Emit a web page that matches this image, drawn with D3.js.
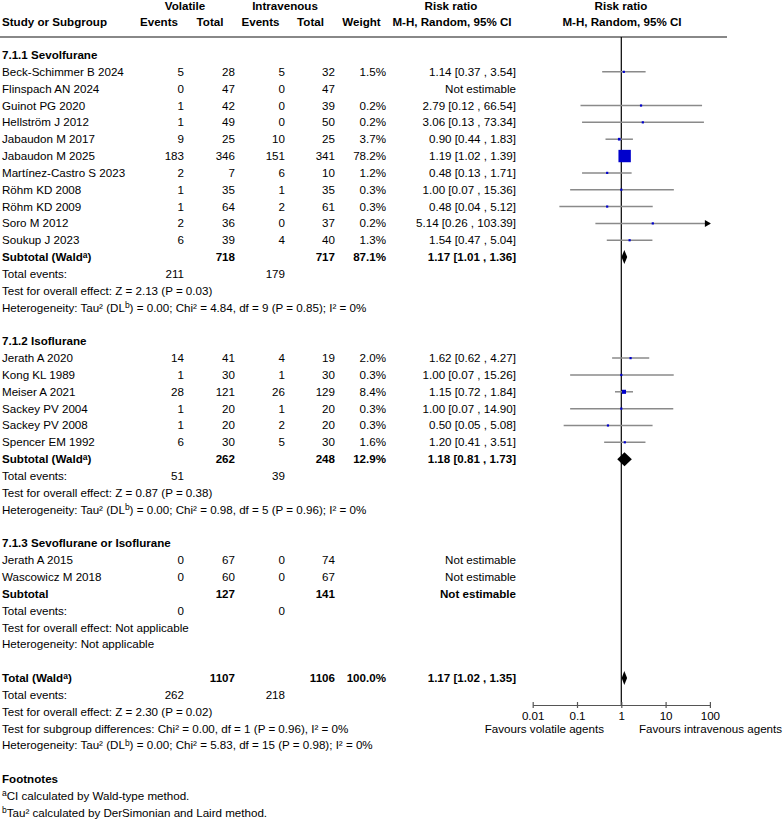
<!DOCTYPE html>
<html>
<head>
<meta charset="utf-8">
<script src="https://cdn.jsdelivr.net/npm/d3@7"></script>
<style>
	body { margin: 0; background: #fff; }
	text { font-family: "Liberation Sans", Arial, sans-serif; font-size: 11.6px; fill: #000; }
	.b { font-weight: bold; }
</style>
</head>
<body>
<svg id="chart" width="783" height="819"></svg>
<script>
// study rows: name, volatile events, volatile total, iv events, iv total, weight %, rr, lower, upper
const sevoStudies = [
	["Beck-Schimmer B 2024", 5, 28, 5, 32, 1.5, 1.14, 0.37, 3.54],
	["Flinspach AN 2024", 0, 47, 0, 47, null, null, null, null],
	["Guinot PG 2020", 1, 42, 0, 39, 0.2, 2.79, 0.12, 66.54],
	["Hellström J 2012", 1, 49, 0, 50, 0.2, 3.06, 0.13, 73.34],
	["Jabaudon M 2017", 9, 25, 10, 25, 3.7, 0.9, 0.44, 1.83],
	["Jabaudon M 2025", 183, 346, 151, 341, 78.2, 1.19, 1.02, 1.39],
	["Martínez-Castro S 2023", 2, 7, 6, 10, 1.2, 0.48, 0.13, 1.71],
	["Röhm KD 2008", 1, 35, 1, 35, 0.3, 1.0, 0.07, 15.36],
	["Röhm KD 2009", 1, 64, 2, 61, 0.3, 0.48, 0.04, 5.12],
	["Soro M 2012", 2, 36, 0, 37, 0.2, 5.14, 0.26, 103.39],
	["Soukup J 2023", 6, 39, 4, 40, 1.3, 1.54, 0.47, 5.04],
]
const isoStudies = [
	["Jerath A 2020", 14, 41, 4, 19, 2.0, 1.62, 0.62, 4.27],
	["Kong KL 1989", 1, 30, 1, 30, 0.3, 1.0, 0.07, 15.26],
	["Meiser A 2021", 28, 121, 26, 129, 8.4, 1.15, 0.72, 1.84],
	["Sackey PV 2004", 1, 20, 1, 20, 0.3, 1.0, 0.07, 14.9],
	["Sackey PV 2008", 1, 20, 2, 20, 0.3, 0.5, 0.05, 5.08],
	["Spencer EM 1992", 6, 30, 5, 30, 1.6, 1.2, 0.41, 3.51],
]
const mixStudies = [
	["Jerath A 2015", 0, 67, 0, 74, null, null, null, null],
	["Wascowicz M 2018", 0, 60, 0, 67, null, null, null, null],
]

const groupTitles = ["7.1.1 Sevolfurane", "7.1.2 Isoflurane", "7.1.3 Sevoflurane or Isoflurane"]
// subtotal: label, volatile total, iv total, weight, rr, lower, upper
const subtotals = [
	["Subtotal (Wald^a)", 718, 717, 87.1, 1.17, 1.01, 1.36],
	["Subtotal (Wald^a)", 262, 248, 12.9, 1.18, 0.81, 1.73],
	["Subtotal", 127, 141, null, null, null, null],
]
const groupEvents = [[211, 179], [51, 39], [0, 0]]
const groupTests = [
	["Test for overall effect: Z = 2.13 (P = 0.03)",
		"Heterogeneity: Tau² (DL^b) = 0.00; Chi² = 4.84, df = 9 (P = 0.85); I² = 0%"],
	["Test for overall effect: Z = 0.87 (P = 0.38)",
		"Heterogeneity: Tau² (DL^b) = 0.00; Chi² = 0.98, df = 5 (P = 0.96); I² = 0%"],
	["Test for overall effect: Not applicable", "Heterogeneity: Not applicable"],
]
const overall = ["Total (Wald^a)", 1107, 1106, 100.0, 1.17, 1.02, 1.35]
const overallEvents = [262, 218]
const overallTests = [
	"Test for overall effect: Z = 2.30 (P = 0.02)",
	"Test for subgroup differences: Chi² = 0.00, df = 1 (P = 0.96), I² = 0%",
	"Heterogeneity: Tau² (DL^b) = 0.00; Chi² = 5.83, df = 15 (P = 0.98); I² = 0%",
]
const footnotes = ["^aCI calculated by Wald-type method.", "^bTau² calculated by DerSimonian and Laird method."]
const axisTicks = [0.01, 0.1, 1, 10, 100]
const axisLabels = ["Favours volatile agents", "Favours intravenous agents"]

const svg = d3.select("#chart")

// column anchors (right aligned numbers)
const col = { evV: 184, totV: 235, evI: 285, totI: 335, weight: 386, ci: 516 }
const rowY = (i) => 55 + i * 16.84
const x = d3.scaleLog().domain([0.01, 100]).range([532.7, 709.9])
const axisY = 705

// text with ^x superscripts
function rich(sel, str) {
	const parts = str.split(/\^(\w)/)
	let shift = 0
	parts.forEach((p, i) => {
		if (p === "") return
		const sup = i % 2 === 1
		const target = sup ? -3.5 : 0
		const ts = sel.append("tspan").attr("dy", target - shift).text(p)
		if (sup) ts.style("font-size", "8.5px")
		shift = target
	})
	return sel
}

function addText(xPos, y, str, anchor, bold) {
	const t = svg.append("text")
		.attr("x", xPos)
		.attr("y", y + 4)
		.attr("text-anchor", anchor || "start")
		.classed("b", !!bold)
	return rich(t, String(str))
}

const ciText = (r, lo, hi) => `${r.toFixed(2)} [${lo.toFixed(2)} , ${hi.toFixed(2)}]`

// header
addText(185, 6, "Volatile", "middle", true)
addText(285, 6, "Intravenous", "middle", true)
addText(451, 6, "Risk ratio", "middle", true)
addText(621, 6, "Risk ratio", "middle", true)
addText(2, 22, "Study or Subgroup", "start", true)
addText(159, 22, "Events", "middle", true)
addText(210, 22, "Total", "middle", true)
addText(260.5, 22, "Events", "middle", true)
addText(310.5, 22, "Total", "middle", true)
addText(361.5, 22, "Weight", "middle", true)
addText(452, 22, "M-H, Random, 95% CI", "middle", true)
addText(622, 22, "M-H, Random, 95% CI", "middle", true)

svg.append("line")
	.attr("x1", 0).attr("x2", 727)
	.attr("y1", 37).attr("y2", 37)
	.attr("stroke", "#888").attr("stroke-width", 2)

// null line
svg.append("line")
	.attr("x1", x(1)).attr("x2", x(1))
	.attr("y1", 37).attr("y2", axisY)
	.attr("stroke", "#000").attr("stroke-width", 1.2)

const plot = svg.append("g")

function drawStudy(d, y) {
	const [name, ev1, n1, ev2, n2, w, r, lo, hi] = d
	addText(2, y, name)
	addText(col.evV, y, ev1, "end")
	addText(col.totV, y, n1, "end")
	addText(col.evI, y, ev2, "end")
	addText(col.totI, y, n2, "end")
	if (r == null) {
		addText(col.ci, y, "Not estimable", "end")
		return
	}
	addText(col.weight, y, w.toFixed(1) + "%", "end")
	addText(col.ci, y, ciText(r, lo, hi), "end")
	const [d0, d1] = x.domain()
	plot.append("line")
		.attr("x1", x(Math.max(lo, d0))).attr("x2", x(Math.min(hi, d1)))
		.attr("y1", y).attr("y2", y)
		.attr("stroke", "#8a8a8a").attr("stroke-width", 1.5)
	if (hi > d1) {
		const ax = x(d1)
		plot.append("path")
			.attr("d", `M${ax - 5},${y - 3.5}L${ax + 1},${y}L${ax - 5},${y + 3.5}Z`)
			.attr("fill", "#000")
	}
	const s = Math.max(2.2, 1.4 * Math.sqrt(w))
	plot.append("rect")
		.attr("x", x(r) - s / 2).attr("y", y - s / 2)
		.attr("width", s).attr("height", s)
		.attr("fill", "#0000cc")
}

function drawPooled(d, y) {
	const [label, n1, n2, w, r, lo, hi] = d
	addText(2, y, label, "start", true)
	addText(col.totV, y, n1, "end", true)
	addText(col.totI, y, n2, "end", true)
	if (r == null) {
		addText(col.ci, y, "Not estimable", "end", true)
		return
	}
	addText(col.weight, y, w.toFixed(1) + "%", "end", true)
	addText(col.ci, y, ciText(r, lo, hi), "end", true)
	plot.append("path")
		.attr("d", `M${x(lo)},${y}L${x(r)},${y - 7}L${x(hi)},${y}L${x(r)},${y + 7}Z`)
		.attr("fill", "#000")
}

function drawEvents(ev, y) {
	addText(2, y, "Total events:")
	addText(col.evV, y, ev[0], "end")
	addText(col.evI, y, ev[1], "end")
}

let row = 0
;[sevoStudies, isoStudies, mixStudies].forEach((studies, g) => {
	addText(2, rowY(row++), groupTitles[g], "start", true)
	studies.forEach((d) => drawStudy(d, rowY(row++)))
	drawPooled(subtotals[g], rowY(row++))
	drawEvents(groupEvents[g], rowY(row++))
	groupTests[g].forEach((t) => addText(2, rowY(row++), t))
	row++
})

drawPooled(overall, rowY(row++))
drawEvents(overallEvents, rowY(row++))
overallTests.forEach((t) => addText(2, rowY(row++), t))
row++
addText(2, rowY(row++), "Footnotes", "start", true)
footnotes.forEach((t) => addText(2, rowY(row++), t))

// axis
const axis = svg.append("g")
	.attr("transform", `translate(0,${axisY})`)
	.call(d3.axisBottom(x).tickValues(axisTicks).tickFormat((d) => String(d)).tickSizeOuter(0))
axis.select(".domain").attr("stroke", "#555").attr("stroke-width", 1.2)
axis.selectAll(".tick line").attr("y1", -3).attr("y2", 3).attr("stroke", "#555").attr("stroke-width", 1.2)
axis.selectAll(".tick text")
	.attr("y", 15).attr("dy", 0)
	.style("font-family", '"Liberation Sans", Arial, sans-serif')
	.style("font-size", "11.6px")
	.attr("fill", "#000")
addText(604, 729, axisLabels[0], "end")
addText(639, 729, axisLabels[1], "start")
</script>
</body>
</html>
